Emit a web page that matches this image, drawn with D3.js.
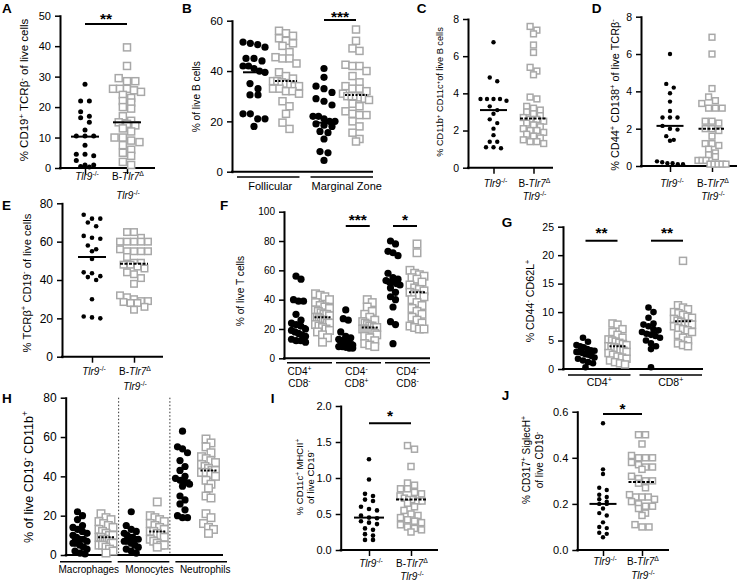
<!DOCTYPE html>
<html><head><meta charset="utf-8">
<script src="https://cdn.jsdelivr.net/npm/d3@7"></script>
<style>body{margin:0;background:#fff}svg{display:block}</style></head>
<body><script>
// ---------- DATA ----------
const genotypes = ["T","B"]; // T = Tlr9-/-, B = B-Tlr7Δ Tlr9-/-
// A
const aTicks=[0,10,20,30,40,50];
const aTlr9=[27.5,22,22,18.5,17,16.5,15,12.5,10.5,10.5,10.5,7.5,4.5,4.5,4,2.5,1,1,0.5,0.3];
const aB=[39.6,33.5,29.5,28.5,28.5,26,26,26,25.5,25,24,23,22,21.5,20,19.5,17,15.5,15,14.5,14,13,12,10,10,9,8.5,7.5,6,5,4,2,1];
const aMed=[10.3,15];
// B
const bTicks=[0,20,40,60];
const bGroups=["Follicular","Marginal Zone"];
const bFolT=[51.5,50.5,49.5,51,45,44,45,42,42,41,40,39.5,35,33,30.5,30.5,23,23,21,21,18];
const bFolB=[56,55,54,53,52,51,50,47.5,45.5,45,45,43,39.5,38,37,36,36,35.5,35,34.5,34,34,33,33,32,32,31,28,26,23,19.5,17];
const bMzT=[41,37.5,34,33,31.5,29,28,26.5,22,22,21,20,20,19,18.5,18,16,15.5,13,8,7.5,4.5];
const bMzB=[56.5,52,49,48,42.5,42,42,40,38,35.5,34,33,33,32,31,30,30,30,29.5,29,28.5,27,26,24,23,22.5,22.5,20,18,15.5,13,12];
const bMed=[39.5,36,19.5,30.5];
// C
const cTicks=[0,2,4,6,8];
const cT=[6.75,4.85,4.65,3.7,3.7,3.7,3.7,3.6,3.3,3.1,2.9,2.6,2.4,2.1,1.75,1.4,1.4,1.1,1.1,1.05];
const cB=[7.6,7.4,7.2,6.6,6.2,5.4,5.2,5.0,3.8,3.7,3.3,3.2,3.1,3.0,2.9,2.8,2.7,2.6,2.6,2.5,2.4,2.3,2.2,2.1,2.0,2.0,1.9,1.8,1.7,1.6,1.5,1.4,1.4,1.3];
const cMed=[3.1,2.65];
// D
const dTicks=[0,2,4,6,8];
const dT=[6.0,4.4,4.2,3.9,3.45,2.95,2.6,2.6,2.6,2.15,2.0,1.95,1.6,1.4,1.35,0.25,0.2,0.15,0.15,0.1,0.1];
const dB=[6.9,6.0,4.15,3.7,3.5,3.35,3.1,3.1,3.1,2.4,2.4,2.3,2.0,2.0,1.9,1.6,1.2,1.2,1.1,0.9,0.7,0.6,0.5,0.3,0.3,0.3,0.1,0.1,0.1,0.1,0.1];
const dMed=[2.15,2.0];
// E
const eTicks=[0,20,40,60,80];
const eT=[74,72,72,70,68,63,62,61.5,58,56,55,51,44,43.5,42,41.5,40,30,21,20.5,20];
const eB=[65,65,62,60,60,60,60,60,56,55,55,55,55,52,49,49,48,48,47,46,44,43,41,38,32,31,30,29,29,28.5,28,28,26,24.5];
const eMed=[52,48.5];
// F
const fTicks=[0,20,40,60,80,100];
const fGroups=["CD4+CD8-","CD4-CD8+","CD4-CD8-"];
const fT1=[56,54,40,39,39,30,26,24,23,22,20,19,18,17,16,15,13,12,12,11];
const fB1=[44,43,42,40,38,36,35,34,33,32,31,30,30,29,28,28,27,26,26,25,24,24,23,22,21,20,19,18,16,14,11];
const fT2=[33,27,26,18,15,14,13,12,12,11,11,10,10,9,9,8,8,7.5,7,7];
const fB2=[40,38,35,32,30,28,26,25,24,23,22,22,21,21,20,20,19,19,18,18,17,16,15,14,12,10,9,8];
const fT3=[80,78,73,72,70,58,55,54,53,52,52,51,50,48,45,42,40,35,25,23,10];
const fB3=[78,72,60,58,57,56,55,54,52,50,48,47,46,45,44,43,42,40,38,36,34,32,30,28,26,24,22,21,20,20];
const fMed=[22,28,11,21,52,45];
// G
const gTicks=[0,5,10,15,20,25];
const gGroups=["CD4+","CD8+"];
const gT1=[5.5,4.8,4.2,4,3.8,3.5,3.3,3.2,3,3,2.8,2.6,2.5,2.3,2,1.8,1.5,1.2,1,0.3];
const gB1=[8,7.8,7,6.5,6,5.5,5.2,5,4.8,4.6,4.4,4.2,4,3.9,3.8,3.6,3.4,3.2,3,2.8,2.5,2.2,2,1.8,1.5,1.2,1,0.8];
const gT2=[10.8,10,9,8,7.8,7.5,7,6.8,6.5,6.2,6,5.8,5.5,5,4.5,4,3.5,0.3];
const gB2=[19,11.2,10.8,10.5,10,9.8,9.5,9.2,9,8.8,8.5,8.3,8,8,7.8,7.5,7.2,7,6.8,6.5,6,5.5,5,4.5,4.2,4];
const gMed=[3,4,6.4,8.4];
// H
const hTicks=[0,20,40,60,80];
const hGroups=["Macrophages","Monocytes","Neutrophils"];
const hT1=[22,20,18,15,14,13,12,11,10,9,8,8,7,6,6,5,4,3,2,1,0.5];
const hB1=[21,19,18,17,16,15,14,13,12,11,10,10,9,9,8,8,7,7,6,6,5,5,4,3,2,1];
const hT2=[22,15,13,12,11,10,9,9,8,8,7,7,6,5,4,3,2,1];
const hB2=[27,20,19,18,17,16,15,14,13,12,12,11,10,9,8,7,6,5,5,4];
const hT3=[63,55,54,52,48,45,43,40,39,38,37,36,35,30,28,26,23,20,19,19];
const hB3=[59,57,55,52,50,49,48,47,46,45,44,43,43,42,42,41,40,38,36,34,30,29,21,19,16,14,13,11];
const hMed=[8,9,8,12,38,43];
// I
const iTicks=[0,0.5,1,1.5,2];
const iT=[1.26,0.98,0.78,0.75,0.7,0.68,0.6,0.57,0.55,0.48,0.45,0.44,0.4,0.38,0.36,0.3,0.28,0.22,0.2,0.14,0.14];
const iB=[1.45,1.4,1.16,0.93,0.9,0.85,0.85,0.8,0.78,0.75,0.72,0.7,0.7,0.68,0.68,0.65,0.6,0.55,0.5,0.48,0.45,0.42,0.4,0.38,0.35,0.32,0.3,0.28,0.25];
const iMed=[0.45,0.7];
// J
const jTicks=[0,0.2,0.4,0.6];
const jT=[0.55,0.35,0.33,0.27,0.26,0.24,0.23,0.22,0.21,0.2,0.2,0.18,0.16,0.15,0.12,0.1,0.095,0.075,0.07,0.055];
const jB=[0.5,0.5,0.46,0.41,0.4,0.4,0.4,0.38,0.37,0.36,0.36,0.35,0.32,0.31,0.3,0.3,0.29,0.27,0.24,0.23,0.23,0.23,0.22,0.21,0.2,0.19,0.19,0.18,0.16,0.15,0.11,0.1,0.1];
const jMed=[0.2,0.295];

// ---------- DRAWING ----------
const FONT="'Liberation Sans',Arial,Helvetica,sans-serif";
const svg=d3.select("body").append("svg").attr("width",739).attr("height",583)
  .style("font-family",FONT);

function rich(t,str,fs){
  const parts=str.split(/(\{[^}]*\}|\[[^\]]*\])/).filter(s=>s.length);
  let shift=0;
  parts.forEach(s=>{
    let sup=false,it=false,txt=s;
    if(s[0]==="{"){sup=true;txt=s.slice(1,-1);}
    else if(s[0]==="["){it=true;txt=s.slice(1,-1);}
    const target=sup?-0.38*fs:0;
    const ts=t.append("tspan").text(txt);
    if(target!==shift){ts.attr("dy",target-shift);shift=target;}
    if(sup)ts.attr("font-size",(fs*0.68).toFixed(2));
    if(it)ts.attr("font-style","italic");
  });
}

// GraphPad-like row layout: points closer than binH (px) share a row, centred
function rows(vals,y,binH,s,maxOff){
  const sorted=vals.slice().sort((a,b)=>b-a);
  const out=[];let i=0;
  while(i<sorted.length){
    const top=y(sorted[i]);let j=i;
    while(j<sorted.length&&y(sorted[j])-top<binH)j++;
    const n=j-i;let sp=s;
    if(maxOff!=null&&n>1)sp=Math.min(s,2*maxOff/(n-1));
    for(let k=0;k<n;k++)out.push({v:sorted[i+k],dx:(k-(n-1)/2)*sp});
    i=j;
  }
  return out;
}

function drawPanel(p){
  const g=svg.append("g");
  const y=d3.scaleLinear().domain([0,p.yMax]).range([p.y0,p.yTop]);
  const groups=p.groups||[""];
  const gc=d3.scalePoint().domain(groups).range(p.gRange);
  const inner=d3.scalePoint().domain(genotypes).range([-p.d,p.d]);
  const X=(grp,geno)=>gc(grp)+inner(geno);

  g.append("text").attr("x",p.lx).attr("y",p.ly).attr("font-size",13.5)
    .attr("font-weight","bold").text(p.letter);

  g.append("line").attr("x1",p.ax-1).attr("x2",p.xEnd).attr("y1",p.y0).attr("y2",p.y0)
    .attr("stroke","#000").attr("stroke-width",2);

  const ya=g.append("g").attr("transform",`translate(${p.ax},0)`)
    .call(d3.axisLeft(y).tickValues(p.ticks).tickSize(5).tickSizeOuter(0).tickPadding(4)
      .tickFormat(p.fmt?d3.format(p.fmt):d3.format("d")));
  ya.attr("font-family",FONT).attr("font-size",p.tfs);
  ya.select(".domain").attr("stroke","#000").attr("stroke-width",2).attr("stroke-linecap","square");
  ya.selectAll(".tick line").attr("stroke","#000").attr("stroke-width",1.5);
  ya.selectAll(".tick text").attr("fill","#000");

  p.title.lines.forEach((ln,i)=>{
    const t=g.append("text").attr("transform",`translate(${p.title.xs[i]},${p.title.y}) rotate(-90)`)
      .attr("text-anchor","middle").attr("dy","0.35em").attr("font-size",p.title.fs);
    rich(t,ln,p.title.fs);
  });

  if(p.xl){
    const xs=d3.scalePoint().domain(genotypes).range([X("","T"),X("","B")]);
    const xa=g.append("g").attr("transform",`translate(0,${p.y0})`)
      .call(d3.axisBottom(xs).tickSize(6).tickFormat(""));
    xa.select(".domain").remove();
    xa.selectAll(".tick line").attr("stroke","#000").attr("stroke-width",1.5);
    const fs=p.xfs||10;
    const t1=g.append("text").attr("x",xs("T")+2).attr("y",p.xl[0]).attr("text-anchor","middle").attr("font-size",fs);
    rich(t1,"[Tlr9]{-/-}",fs);
    const t2=g.append("text").attr("x",xs("B")+1).attr("y",p.xl[0]).attr("text-anchor","middle").attr("font-size",fs);
    rich(t2,"B-[Tlr7]{Δ}",fs);
    const t3=g.append("text").attr("x",xs("B")+1).attr("y",p.xl[1]).attr("text-anchor","middle").attr("font-size",fs);
    rich(t3,"[Tlr9]{-/-}",fs);
  }

  if(p.lineRange){
    const band=d3.scaleBand().domain(groups).range(p.lineRange).paddingInner(p.lp);
    groups.forEach((grp,i)=>{
      g.append("line").attr("x1",band(grp)).attr("x2",band(grp)+band.bandwidth())
        .attr("y1",p.lineY).attr("y2",p.lineY).attr("stroke","#000").attr("stroke-width",1.5);
      p.glabels[i].forEach((ln,j)=>{
        const t=g.append("text").attr("x",band(grp)+band.bandwidth()/2+(p.glDx?p.glDx[i]:0))
          .attr("y",p.glY[j]).attr("text-anchor","middle").attr("font-size",p.gfs);
        rich(t,ln,p.gfs);
      });
    });
  }

  if(p.seps){
    for(let i=0;i<groups.length-1;i++){
      const sx=(X(groups[i],"B")+X(groups[i+1],"T"))/2;
      g.append("line").attr("x1",sx).attr("x2",sx).attr("y1",p.yTop).attr("y2",p.y0)
        .attr("stroke","#333").attr("stroke-width",1).attr("stroke-dasharray","1.5,2");
    }
  }

  const meds=[];
  groups.forEach((grp,gi)=>{
    genotypes.forEach(geno=>{
      const vals=p[geno][gi];
      const cx=X(grp,geno);
      if(geno==="T"){
        const pts=rows(vals,y,p.tBin,p.tS,p.tMax);
        g.append("g").selectAll("circle").data(pts).join("circle")
          .attr("cx",d=>cx+d.dx).attr("cy",d=>y(d.v)).attr("r",p.r).attr("fill","#000");
      } else {
        const pts=rows(vals,y,p.bBin,p.bS,p.bMax);
        g.append("g").selectAll("rect").data(pts).join("rect")
          .attr("x",d=>cx+d.dx-p.sq/2).attr("y",d=>y(d.v)-p.sq/2)
          .attr("width",p.sq).attr("height",p.sq)
          .attr("fill","#fff").attr("stroke","#a8a8a8").attr("stroke-width",1.5);
      }
      meds.push({cx,m:p.med[gi*2+(geno==="T"?0:1)],geno});
    });
  });
  meds.forEach(o=>{
    g.append("line").attr("x1",o.cx-p.mw/2).attr("x2",o.cx+p.mw/2)
      .attr("y1",y(o.m)).attr("y2",y(o.m)).attr("stroke","#000").attr("stroke-width",2)
      .attr("stroke-dasharray",o.geno==="B"&&p.dash?p.dash:null);
  });

  (p.sig||[]).forEach(s=>{
    const x1=X(s.g,"T"),x2=X(s.g,"B");
    g.append("line").attr("x1",x1).attr("x2",x2).attr("y1",s.y).attr("y2",s.y)
      .attr("stroke","#000").attr("stroke-width",2);
    g.append("text").attr("x",(x1+x2)/2).attr("y",s.sy+9).attr("text-anchor","middle")
      .attr("font-size",15.5).attr("font-weight","bold").text(s.text);
  });
}

const panels=[
 {letter:"A",lx:2,ly:13,ax:60,xEnd:155,y0:168,yTop:15.7,yMax:50,ticks:aTicks,tfs:11,
  gRange:[106,106],d:21,T:[aTlr9],B:[aB],med:aMed,r:2.5,sq:7,
  tBin:5,tS:8.7,tMax:11,bBin:6,bS:8.3,bMax:14,mw:28,dash:null,
  sig:[{g:"",y:24,sy:15,text:"**"}],
  title:{xs:[24],y:90,fs:11.5,lines:["% CD19{+} TCRβ{-} of live cells"]},xl:[180,199]},
 {letter:"B",lx:182,ly:13,ax:232,xEnd:373,y0:171.7,yTop:20.7,yMax:60,ticks:bTicks,tfs:11.5,
  groups:bGroups,gRange:[270,340],d:16,T:[bFolT,bMzT],B:[bFolB,bMzB],med:bMed,r:3.6,sq:7,
  tBin:6.5,tS:8,tMax:11,bBin:6.5,bS:7,bMax:13,mw:22,dash:"2,1.5",
  sig:[{g:"Marginal Zone",y:20,sy:12.5,text:"***"}],
  title:{xs:[196.7],y:96.7,fs:10.2,lines:["% of live B cells"]},
  lineRange:[237,373],lp:0.15,lineY:177,glY:[190],gfs:11,glabels:[["Follicular"],["Marginal Zone"]],glDx:[2,5]},
 {letter:"C",lx:416.7,ly:13,ax:468,xEnd:553,y0:167.7,yTop:19,yMax:8,ticks:cTicks,tfs:10.5,
  gRange:[513.5,513.5],d:20,T:[cT],B:[cB],med:cMed,r:2.2,sq:5.8,
  tBin:4.5,tS:7.5,tMax:13,bBin:5.5,bS:6.8,bMax:17,mw:27,dash:"3,1.5",
  title:{xs:[440],y:92,fs:9.2,lines:["% CD11b{+} CD11c{+}of live B cells"]},xl:[186.7,200]},
 {letter:"D",lx:591.7,ly:13,ax:641,xEnd:737,y0:166,yTop:16.7,yMax:8,ticks:dTicks,tfs:10.5,
  gRange:[691,691],d:21,T:[dT],B:[dB],med:dMed,r:2.2,sq:5.8,
  tBin:4.5,tS:7.5,tMax:13,bBin:5.5,bS:6.8,bMax:14,mw:27,dash:"3,1.5",
  title:{xs:[615],y:95,fs:10.9,lines:["% CD44{+} CD138{+} of live TCRβ{-}"]},xl:[186.7,200]},
 {letter:"E",lx:2,ly:210,ax:62,xEnd:163,y0:356.7,yTop:203.3,yMax:80,ticks:eTicks,tfs:12,
  gRange:[113,113],d:21,T:[eT],B:[eB],med:eMed,r:2.3,sq:6.5,
  tBin:4.6,tS:8.3,tMax:9,bBin:6,bS:7,bMax:15,mw:28,dash:"3,1.5",
  title:{xs:[26.7],y:283,fs:11.2,lines:["% TCRβ{+} CD19{-} of live cells"]},xl:[375,390]},
 {letter:"F",lx:220,ly:210,ax:284,xEnd:430,y0:358.3,yTop:211.7,yMax:100,ticks:fTicks,tfs:10,
  groups:fGroups,gRange:[310.5,405],d:12,T:[fT1,fT2,fT3],B:[fB1,fB2,fB3],med:fMed,r:3.6,sq:7.5,
  tBin:7,tS:5,tMax:7,bBin:7,bS:5,bMax:7,mw:16,dash:"2,1.5",
  sig:[{g:"CD4-CD8+",y:226,sy:215.7,text:"***"},{g:"CD4-CD8-",y:226,sy:215.7,text:"*"}],
  title:{xs:[240],y:291,fs:10.2,lines:["% of live T cells"]},
  lineRange:[287,430],lp:0.082,lineY:362.7,glY:[375,387],gfs:10,
  glabels:[["CD4{+}","CD8{-}"],["CD4{-}","CD8{+}"],["CD4{-}","CD8{-}"]],glDx:[-10,-2,0]},
 {letter:"G",lx:501.7,ly:226.7,ax:563,xEnd:703,y0:369,yTop:226.7,yMax:25,ticks:gTicks,tfs:10.5,
  groups:gGroups,gRange:[601.5,667],d:16,T:[gT1,gT2],B:[gB1,gB2],med:gMed,r:3.3,sq:7,
  tBin:6.5,tS:5,tMax:9,bBin:6.5,bS:5,bMax:9,mw:16,dash:"2,1.5",
  sig:[{g:"CD4+",y:240.7,sy:229,text:"**"},{g:"CD8+",y:240.7,sy:229,text:"**"}],
  title:{xs:[530],y:301,fs:10.7,lines:["% CD44{-} CD62L{+}"]},
  lineRange:[568,702],lp:0.126,lineY:375,glY:[386],gfs:10.5,glabels:[["CD4{+}"],["CD8{+}"]]},
 {letter:"H",lx:2,ly:403,ax:65.7,xEnd:223,y0:555,yTop:397.7,yMax:80,ticks:hTicks,tfs:12,
  groups:hGroups,gRange:[93,195.5],d:13,T:[hT1,hT2,hT3],B:[hB1,hB2,hB3],med:hMed,r:3.6,sq:7.5,
  tBin:7,tS:5,tMax:7,bBin:7,bS:5,bMax:7,mw:16,dash:"2,1.5",
  title:{xs:[28.3],y:477,fs:12.5,lines:["% of live CD19{-} CD11b{+}"]},
  lineRange:[60,227],lp:0.105,lineY:561.7,glY:[573.3],gfs:10,
  glabels:[["Macrophages"],["Monocytes"],["Neutrophils"]],glDx:[3,6,4],seps:true},
 {letter:"I",lx:270.7,ly:403,ax:340.7,xEnd:438,y0:550,yTop:406,yMax:2,ticks:iTicks,fmt:".1f",tfs:11,
  gRange:[390,390],d:21,T:[iT],B:[iB],med:iMed,r:2.3,sq:6,
  tBin:4.6,tS:8,tMax:12.5,bBin:5.5,bS:7,bMax:11,mw:30,dash:"3,1.5",
  sig:[{g:"",y:423.3,sy:412.3,text:"*"}],
  title:{xs:[300,310.5],y:477,fs:9.5,lines:["% CD11c{+} MHCII{+}","of live CD19{-}"]},xl:[566.7,580]},
 {letter:"J",lx:501.7,ly:400,ax:577.3,xEnd:669,y0:550,yTop:411.7,yMax:0.6,ticks:jTicks,fmt:".1f",tfs:11,
  gRange:[622.5,622.5],d:19.5,T:[jT],B:[jB],med:jMed,r:2.2,sq:6,
  tBin:4.4,tS:7.5,tMax:10,bBin:5.5,bS:7,bMax:12.5,mw:27,dash:"3,1.5",
  sig:[{g:"",y:414,sy:405,text:"*"}],
  title:{xs:[526.7,539.3],y:460,fs:10,lines:["% CD317{+} SiglecH{+}","of live CD19{-}"]},xl:[565,578.5]}
];
panels.forEach(drawPanel);
</script></body></html>
